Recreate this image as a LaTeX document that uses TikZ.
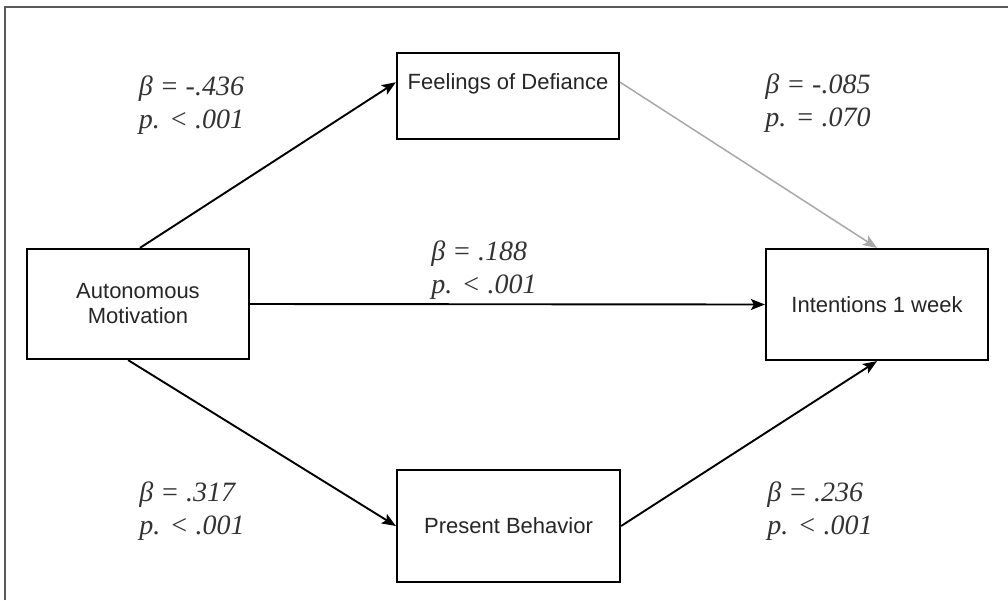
\documentclass[tikz,border=0pt]{standalone}
\usepackage{fontspec}
\setmainfont{Liberation Serif}
\newfontfamily\boxfont{Liberation Sans}
\usetikzlibrary{arrows.meta,calc}
\definecolor{framegray}{HTML}{5A5A5A}
\definecolor{lightarrow}{HTML}{A8A8A8}
\tikzset{
  box/.style={draw=black, line width=2.2pt, rectangle, minimum width=222pt, inner sep=0pt,
    font=\boxfont\fontsize{22}{25}\selectfont, text=black!85, align=center},
  boxtext/.style={inner sep=0pt, font=\boxfont\fontsize{22}{25}\selectfont, text=black!85},
  coef/.style={inner sep=0pt, align=left, font=\itshape\fontsize{28}{33}\selectfont, text=black!80},
  path/.style={draw=black, line width=1.9pt, -{Stealth[length=14pt,width=11pt,inset=3pt]}},
  weakpath/.style={draw=lightarrow, line width=1.5pt, -{Stealth[length=14pt,width=11pt,inset=3pt]}}
}
\begin{document}
\begin{tikzpicture}[x=1pt,y=-1pt]
\useasboundingbox (0,0) rectangle (1008,600);
\fill[white] (0,0) rectangle (1008,600);
\draw[framegray, line width=2pt] (5,600) -- (5,6.5) -- (1008,6.5);

\node[box, minimum height=110pt] (auto) at (138,304) {Autonomous\\Motivation};
\node[box, minimum height=86pt] (feel) at (508,96) {};
\node[boxtext] (feeltext) at (508,84) {Feelings of Defiance};
\node[box, minimum height=111pt] (intent) at (877,304.5) {Intentions 1 week};
\node[box, minimum height=112pt, minimum width=223pt] (pres) at (508.5,526) {Present Behavior};

\draw[path] (auto.88) -- (feel.173);
\draw[path] (auto.east) -- (intent.west);
\draw[weakpath] (feel.7) -- (intent.north);
\draw[path] (auto.260) -- (pres.west);
\draw[path] (pres.east) -- (intent.south);

\node[coef] (c1) at (191.5,105.5) {β = -.436\\p. < .001};
\node[coef] (c2) at (818,103) {β = -.085\\p. = .070};
\node[coef] (c3) at (484,270.5) {β = .188\\p. < .001};
\node[coef] (c4) at (192,511) {β = .317\\p. < .001};
\node[coef] (c5) at (820,511) {β = .236\\p. < .001};
\end{tikzpicture}
\end{document}
